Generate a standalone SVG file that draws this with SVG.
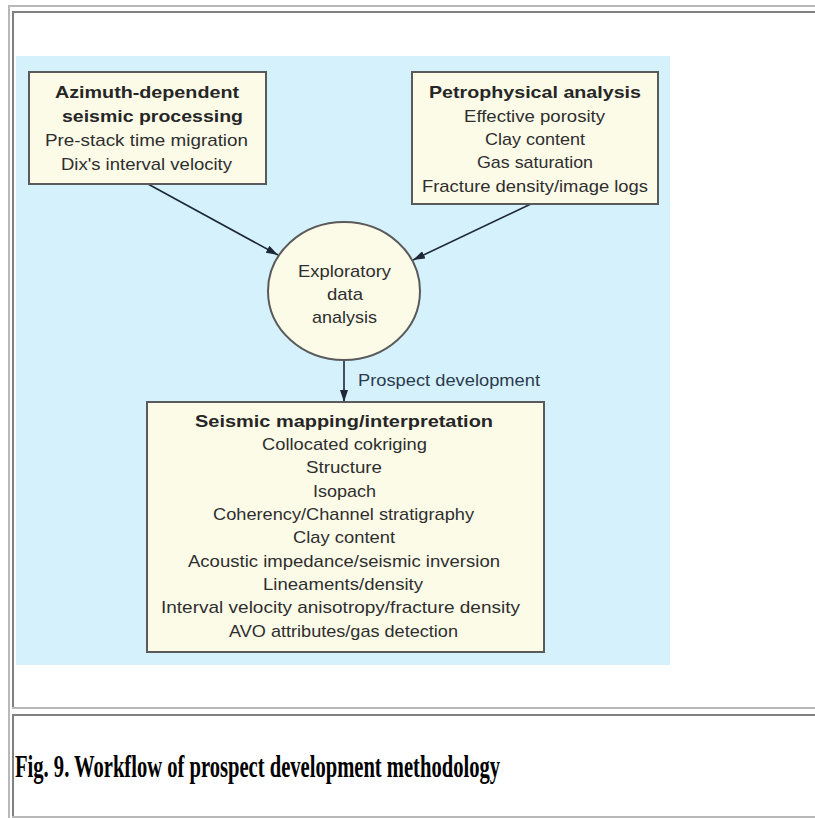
<svg xmlns="http://www.w3.org/2000/svg" width="815" height="818" viewBox="0 0 815 818">
<defs>
<marker id="ah" viewBox="0 0 12 8" refX="12" refY="4" markerWidth="12" markerHeight="8" markerUnits="userSpaceOnUse" orient="auto">
<path d="M0,0 L12,4 L0,8 Z" fill="#1e2836"/>
</marker>
<style>
.frame-l{fill:#b8b8b8}
.frame-d{fill:#808080}
.box{fill:#fcfbe8;stroke:#5a5a5a;stroke-width:2}
.t{font-family:"Liberation Sans",Arial,sans-serif;font-size:17px;fill:#2e2e2e}
.b{font-weight:bold;fill:#262626}
.conn{stroke:#1e2836;stroke-width:1.6;fill:none;marker-end:url(#ah)}
.cap{font-family:"Liberation Serif","Times New Roman",serif;font-weight:bold;font-size:31px;fill:#000}
</style>
</defs>
<rect width="815" height="818" fill="#ffffff"/>
<g id="table-frame">
<rect class="frame-l" x="8" y="5" width="807" height="2"/>
<rect class="frame-l" x="8" y="5" width="2" height="813"/>
<rect class="frame-d" x="12" y="11" width="803" height="2"/>
<rect class="frame-d" x="12" y="11" width="2" height="696"/>
<rect class="frame-l" x="12" y="707" width="803" height="2"/>
<rect class="frame-d" x="12" y="714" width="803" height="2"/>
<rect class="frame-d" x="12" y="714" width="2" height="104"/>
<rect class="frame-l" x="12" y="816" width="803" height="2"/>
</g>
<rect id="figure-bg" x="16" y="56" width="654" height="609" fill="#d5f2fc"/>
<g id="connectors">
<line class="conn" x1="148" y1="184" x2="278" y2="255"/>
<line class="conn" x1="533" y1="203" x2="413" y2="260"/>
<line class="conn" x1="344" y1="360" x2="344" y2="402"/>
</g>
<g id="azimuth">
<rect class="box" x="29" y="72" width="237" height="112"/>
<text class="t b" x="55" y="98" textLength="184" lengthAdjust="spacingAndGlyphs">Azimuth-dependent</text>
<text class="t b" x="62" y="122" textLength="181" lengthAdjust="spacingAndGlyphs">seismic processing</text>
<text class="t" x="45" y="146" textLength="203" lengthAdjust="spacingAndGlyphs">Pre-stack time migration</text>
<text class="t" x="61" y="170" textLength="171" lengthAdjust="spacingAndGlyphs">Dix's interval velocity</text>
</g>
<g id="petro">
<rect class="box" x="412" y="72" width="246" height="132"/>
<text class="t b" x="429" y="98" textLength="212" lengthAdjust="spacingAndGlyphs">Petrophysical analysis</text>
<text class="t" x="464" y="122" textLength="141" lengthAdjust="spacingAndGlyphs">Effective porosity</text>
<text class="t" x="485" y="145" textLength="100" lengthAdjust="spacingAndGlyphs">Clay content</text>
<text class="t" x="477" y="168" textLength="116" lengthAdjust="spacingAndGlyphs">Gas saturation</text>
<text class="t" x="422" y="192" textLength="226" lengthAdjust="spacingAndGlyphs">Fracture density/image logs</text>
</g>
<g id="eda">
<ellipse class="box" cx="344" cy="291" rx="76" ry="69"/>
<text class="t" x="298" y="277" textLength="93" lengthAdjust="spacingAndGlyphs">Exploratory</text>
<text class="t" x="327" y="300" textLength="36" lengthAdjust="spacingAndGlyphs">data</text>
<text class="t" x="312" y="323" textLength="65" lengthAdjust="spacingAndGlyphs">analysis</text>
</g>
<text id="edge-label" class="t" x="358" y="386" textLength="182" lengthAdjust="spacingAndGlyphs" style="fill:#2c3a50">Prospect development</text>
<g id="mapping">
<rect class="box" x="147" y="402" width="397" height="250"/>
<text class="t b" x="195" y="427" textLength="298" lengthAdjust="spacingAndGlyphs">Seismic mapping/interpretation</text>
<text class="t" x="262" y="450" textLength="165" lengthAdjust="spacingAndGlyphs">Collocated cokriging</text>
<text class="t" x="306" y="473" textLength="76" lengthAdjust="spacingAndGlyphs">Structure</text>
<text class="t" x="313" y="497" textLength="63" lengthAdjust="spacingAndGlyphs">Isopach</text>
<text class="t" x="213" y="520" textLength="261" lengthAdjust="spacingAndGlyphs">Coherency/Channel stratigraphy</text>
<text class="t" x="293" y="543" textLength="102" lengthAdjust="spacingAndGlyphs">Clay content</text>
<text class="t" x="188" y="567" textLength="312" lengthAdjust="spacingAndGlyphs">Acoustic impedance/seismic inversion</text>
<text class="t" x="263" y="590" textLength="160" lengthAdjust="spacingAndGlyphs">Lineaments/density</text>
<text class="t" x="161" y="613" textLength="359" lengthAdjust="spacingAndGlyphs">Interval velocity anisotropy/fracture density</text>
<text class="t" x="229" y="637" textLength="229" lengthAdjust="spacingAndGlyphs">AVO attributes/gas detection</text>
</g>
<text id="caption" class="cap" x="15" y="777" textLength="485" lengthAdjust="spacingAndGlyphs">Fig. 9. Workflow of prospect development methodology</text>
</svg>
